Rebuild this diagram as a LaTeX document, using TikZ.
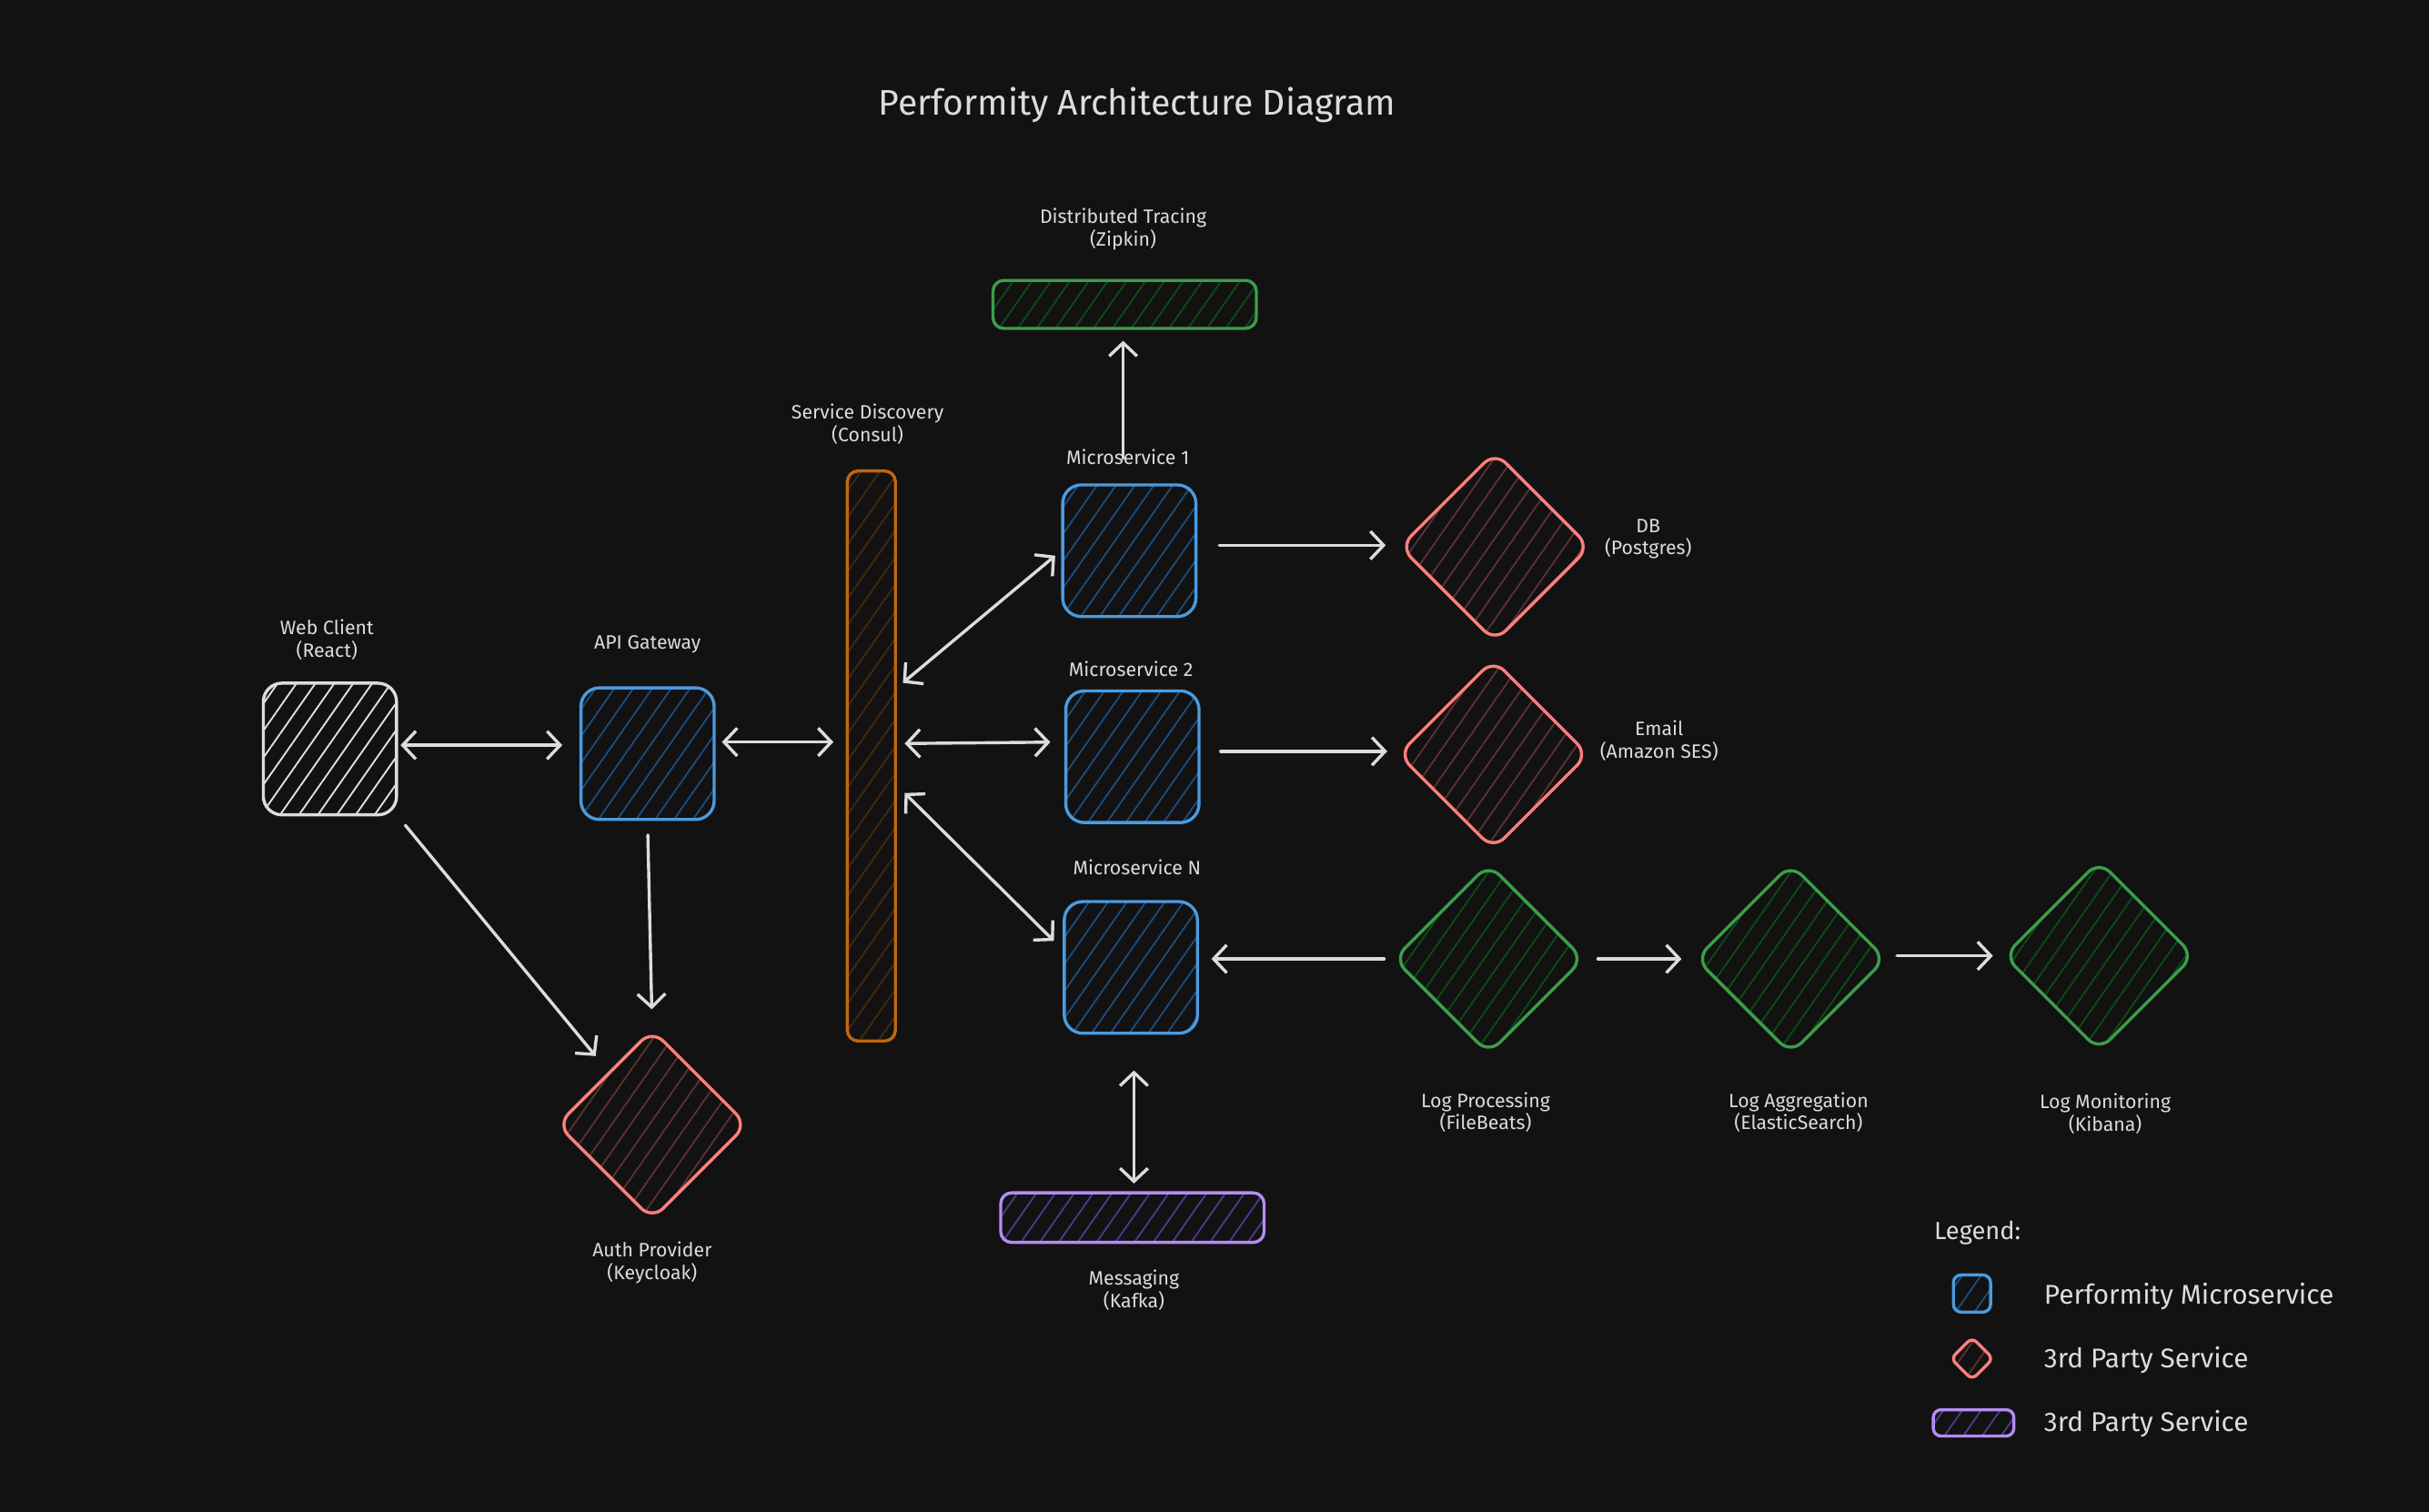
\documentclass[tikz,border=0pt]{standalone}
\usepackage{fontspec}
\setmainfont{Fira Sans}
\usetikzlibrary{shapes.geometric,arrows.meta,patterns.meta}

\definecolor{bg}{HTML}{121212}
\definecolor{fg}{HTML}{DCDCDC}
\definecolor{msblue}{HTML}{4A9BE0}
\definecolor{msbluehatch}{HTML}{1C4C78}
\definecolor{extred}{HTML}{FF7E7E}
\definecolor{extredhatch}{HTML}{5A3131}
\definecolor{loggreen}{HTML}{3C9E4A}
\definecolor{loggreenhatch}{HTML}{0D4A19}
\definecolor{sdorange}{HTML}{C2660C}
\definecolor{sdorangehatch}{HTML}{43290D}
\definecolor{mqpurple}{HTML}{B48CF5}
\definecolor{mqpurplehatch}{HTML}{4B3A85}

\tikzset{
  lbl/.style={text=fg, align=center, font=\fontsize{12.5}{14.5}\selectfont},
  legtext/.style={text=fg, anchor=west, font=\fontsize{17.5}{20}\selectfont},
  hatch/.style={pattern={Lines[angle=55,distance=10pt,line width=1.1pt]}, pattern color=#1},
  card/.style={draw=#1, line width=2pt, rounded corners=12pt, inner sep=0pt,
    minimum width=86pt, minimum height=85pt},
  bar/.style={draw=#1, line width=2pt, rounded corners=7pt, inner sep=0pt},
  gem/.style={draw=#1, line width=2pt, diamond, aspect=1, rounded corners=10pt,
    inner sep=0pt, minimum width=123pt, minimum height=123pt},
  arr/.style={draw=fg, line width=2pt, line cap=round,
    -{Straight Barb[length=8.5pt,width=18pt,line width=2pt]}},
  dbl/.style={draw=fg, line width=2pt, line cap=round,
    {Straight Barb[length=8.5pt,width=18pt,line width=2pt]}-{Straight Barb[length=8.5pt,width=18pt,line width=2pt]}}
}

\begin{document}
\begin{tikzpicture}[x=1pt, y=-1pt]
  \fill[bg] (0,0) rectangle (1568,976);
  \useasboundingbox (0,0) rectangle (1568,976);

  \node[text=fg, font=\fontsize{23}{27}\selectfont] (title) at (734,68) {Performity Architecture Diagram};

  % clients and gateway
  \node[card=fg, hatch=fg!85] (web) at (213,483.5) {};
  \node[lbl] (webL) at (211,413) {Web Client\\(React)};
  \node[card=msblue, hatch=msbluehatch] (api) at (418,486.5) {};
  \node[lbl] (apiL) at (418,416) {API Gateway};
  \node[gem=extred, hatch=extredhatch] (auth) at (421,726) {};
  \node[lbl] (authL) at (421,815) {Auth Provider\\(Keycloak)};

  % service discovery
  \node[bar=sdorange, hatch=sdorangehatch, minimum width=31pt, minimum height=368pt] (sd) at (562.5,488) {};
  \node[lbl] (sdL) at (560,274) {Service Discovery\\(Consul)};

  % microservices
  \node[card=msblue, hatch=msbluehatch] (ms1) at (729,355.5) {};
  \node[lbl] (ms1L) at (728,295) {Microservice 1};
  \node[card=msblue, hatch=msbluehatch] (ms2) at (731,488.5) {};
  \node[lbl] (ms2L) at (730,432) {Microservice 2};
  \node[card=msblue, hatch=msbluehatch] (msn) at (730,624.5) {};
  \node[lbl] (msnL) at (734,560) {Microservice N};

  \node[bar=loggreen, hatch=loggreenhatch, minimum width=170pt, minimum height=31pt] (dt) at (726,196.5) {};
  \node[lbl] (dtL) at (725,148) {Distributed Tracing\\(Zipkin)};
  \node[bar=mqpurple, hatch=mqpurplehatch, minimum width=170pt, minimum height=32pt] (msg) at (731,786) {};
  \node[lbl] (msgL) at (732,833) {Messaging\\(Kafka)};

  % third party and logging
  \node[gem=extred, hatch=extredhatch] (db) at (965,353) {};
  \node[lbl] (dbL) at (1064,348) {DB\\(Postgres)};
  \node[gem=extred, hatch=extredhatch] (email) at (964,487) {};
  \node[lbl] (emailL) at (1071,478) {Email\\(Amazon SES)};
  \node[gem=loggreen, hatch=loggreenhatch] (lp) at (961,619) {};
  \node[lbl] (lpL) at (959,718) {Log Processing\\(FileBeats)};
  \node[gem=loggreen, hatch=loggreenhatch] (la) at (1156,619) {};
  \node[lbl] (laL) at (1161,718) {Log Aggregation\\(ElasticSearch)};
  \node[gem=loggreen, hatch=loggreenhatch] (lm) at (1355,617) {};
  \node[lbl] (lmL) at (1359,719) {Log Monitoring\\(Kibana)};

  % connectors
  \draw[dbl, shorten <=2pt, shorten >=11pt] ([yshift=2.5pt]web.east) -- ([yshift=5.5pt]api.west);
  \draw[dbl, shorten <=4pt, shorten >=8pt] ([yshift=7.5pt]api.east) -- ([yshift=9pt]sd.west);
  \draw[dbl, shorten <=5pt, shorten >=5pt] ([yshift=44pt]sd.east) -- (ms1.west);
  \draw[dbl, shorten <=5pt, shorten >=9pt] ([yshift=8pt]sd.east) -- ([yshift=9.5pt]ms2.west);
  \draw[dbl, shorten <=7pt, shorten >=8pt] ([yshift=-19pt]sd.east) -- ([yshift=11.5pt]msn.west);
  \draw[arr, shorten <=14pt, shorten >=8pt] ([yshift=3.5pt]ms1.east) -- ([yshift=3.5pt]ms1.east -| db.west);
  \draw[arr, shorten <=13pt, shorten >=6pt] ([yshift=3.5pt]ms2.east) -- ([yshift=3.5pt]ms2.east -| email.west);
  \draw[arr, shorten <=5pt, shorten >=8pt] (lp.west) -- (lp.west -| msn.east);
  \draw[arr, shorten <=8pt, shorten >=8pt] (lp.east) -- (la.west);
  \draw[arr, shorten <=6pt, shorten >=6pt] ([yshift=2pt]la.east) -- (lm.west);
  \draw[arr, shorten <=16pt, shorten >=7pt] ([xshift=-4pt]ms1.north) -- ([xshift=-4pt]ms1.north |- dt.south);
  \draw[arr, shorten <=9pt, shorten >=12pt] (api.south) -- (auth.north);
  \draw[arr, shorten <=8pt, shorten >=13pt] (web.south east) -- (auth);
  \draw[dbl, shorten <=23pt, shorten >=5pt] ([xshift=2pt]msn.south) -- ([xshift=2pt]msn.south |- msg.north);

  % legend
  \node[text=fg, anchor=west, font=\fontsize{16}{19}\selectfont] (legL) at (1245,796) {Legend:};
  \node[draw=msblue, line width=2pt, rounded corners=5pt, inner sep=0pt, minimum size=24pt,
    hatch=msbluehatch] (legMs) at (1273,835) {};
  \node[gem=extred, hatch=extredhatch, minimum width=28pt, minimum height=28pt, rounded corners=4pt] (legGem) at (1273,877) {};
  \node[bar=mqpurple, hatch=mqpurplehatch, minimum width=52pt, minimum height=17pt, rounded corners=5pt] (legBar) at (1274,918.5) {};
  \node[legtext] (legMsT) at (1316,837) {Performity Microservice};
  \node[legtext] (legGemT) at (1316,878) {3rd Party Service};
  \node[legtext] (legBarT) at (1316,919) {3rd Party Service};
\end{tikzpicture}
\end{document}
